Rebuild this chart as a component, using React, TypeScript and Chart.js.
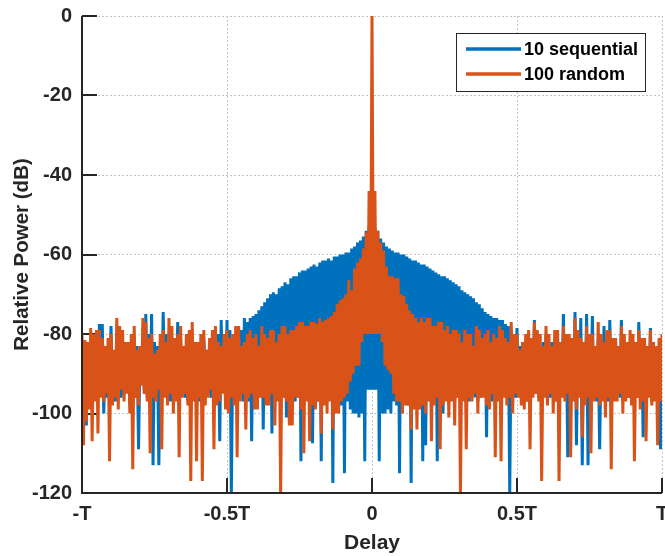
import React, { useEffect, useRef } from "react";
import { Chart, registerables } from "chart.js";

Chart.register(...registerables);

// ---- data -------------------------------------------------------------
const xTickValues = [-1, -0.5, 0, 0.5, 1];
const xTickLabels = ["-T", "-0.5T", "0", "0.5T", "T"];
const yTickValues = [0, -20, -40, -60, -80, -100, -120];
const seriesLabels = ["10 sequential", "100 random"];
const xTitle = "Delay";
const yTitle = "Relative Power (dB)";

// delay samples run from -T to T (in units of T)
const DELAY_START = -1;
const DELAY_STEP = 0.005;

// relative power (dB), 10 sequential
const sequential10 = [
  -84, -96, -82, -103, -85, -94, -83, -97, -84, -95, -82, -96, -77.5, -94, -77.5, -100, -83, -96, -84, -95,
  -78, -93, -85, -97, -84, -94, -82, -96, -83, -95, -85, -94, -84, -98, -82, -95, -81, -96, -83, -109,
  -84, -92, -82, -95, -75, -96, -80, -94, -75, -113, -82, -95, -83, -113, -84, -95, -74.5, -95, -80, -96,
  -82, -97, -85, -94, -84, -95, -77, -96, -81, -94, -85, -96, -83, -97, -82, -95, -84, -94, -82, -95,
  -85, -97, -83, -96, -81, -93, -84, -95, -82, -96, -84, -98, -82, -94, -80, -107, -76.5, -94, -81, -95,
  -76.5, -96, -79, -120, -82, -95, -81, -96, -80, -95, -79, -97, -76, -96, -77, -97, -76, -107, -75.5, -96,
  -75, -97, -74, -95, -73, -104, -72, -96, -71, -97, -70, -105, -69.5, -96, -70, -95, -68.5, -97, -68, -96,
  -67, -101, -67.5, -96, -66, -95, -65.5, -97, -65.5, -96, -64.5, -112, -64, -97, -64, -96, -63.5, -98, -63, -107.5,
  -62.5, -96, -63, -97, -62, -112, -61.5, -96, -61.5, -97, -61, -96, -61.5, -117.5, -60.5, -97, -60.5, -96, -60, -98,
  -60, -115, -59.5, -97, -59.5, -99, -58.5, -100, -58, -100, -57, -101, -56.5, -100, -55.5, -112, -54, -94, -53, -94,
  -53, -94, -53, -94, -54, -112, -56, -100, -57, -100, -58, -99, -58.5, -100, -59, -97, -59.5, -98, -59.5, -115,
  -60, -97, -60, -96, -60.5, -98, -61, -117.5, -61.5, -96, -61.5, -97, -62, -96, -62.5, -112, -62.5, -108, -63, -96,
  -63.5, -97, -64, -96, -64.5, -112, -65, -96, -65.5, -100, -65.5, -96, -66, -97, -66.5, -95, -67, -97, -67.5, -96,
  -68, -97, -69, -95, -69.5, -96, -70, -97, -70.5, -95, -71, -96, -72, -97, -72.5, -96, -73.5, -95, -74.5, -106,
  -75, -96, -75.5, -97, -76, -95, -76, -96, -76.5, -97, -76.5, -95, -77.5, -96, -78, -120, -79, -95, -82, -96,
  -78.5, -94, -83, -96, -82, -95, -84, -97, -81, -96, -83, -94, -76.5, -95, -82, -96, -84, -97, -82, -95,
  -80, -94, -83, -96, -82, -95, -84, -97, -81, -96, -83, -95, -75, -96, -80, -111, -83, -95, -82, -96,
  -74.5, -108, -81, -95, -76, -113, -82, -96, -75, -113, -80, -95, -75.5, -96, -83, -97, -82, -109, -84, -95,
  -78, -96, -83, -97, -76.5, -95, -84, -96, -82, -94, -83, -96, -76.5, -97, -84, -95, -83, -96, -82, -97,
  -84, -95, -83, -96, -77, -95, -82, -106, -84, -96, -83, -95, -78.5, -97, -82, -96, -84, -95, -83, -109,
  -83,
];

// relative power (dB), 100 random
const random100 = [
  -80, -108, -81.5, -102, -82, -99, -78.5, -107, -80, -97, -79, -105, -79, -96, -81, -97, -83, -95, -81, -112,
  -80, -98, -84, -96, -76, -99, -78, -94, -79, -97, -82, -95, -82, -100, -80, -114, -78, -96, -84, -98,
  -83, -93, -76, -95, -77, -97, -81, -110, -80, -96, -85, -97, -84, -94, -80, -109, -79, -96, -82, -98,
  -76, -95, -78, -100, -81, -97, -80, -111, -78, -96, -83, -95, -80, -98, -79, -117, -77, -97, -82, -112,
  -82, -96, -80, -117, -79, -98, -84, -96, -81, -94, -79, -109, -78, -98, -82, -97, -83, -95, -80, -99,
  -79, -100, -81, -96, -80, -98, -78, -111, -78, -97, -83, -95, -82, -104, -80, -96, -79, -95, -81, -99,
  -80, -99, -83, -96, -78, -96, -80, -98, -81, -98, -79, -95, -79, -103, -82, -97, -80, -120, -78, -96,
  -78, -97, -80, -103, -79, -103, -79, -96, -78, -96, -77, -99, -77, -110, -78, -97, -78, -107, -77, -98,
  -77, -99, -77.5, -97, -76, -105, -77, -98, -76.5, -100, -76, -97, -75.5, -104, -74.5, -100, -72.5, -100, -71.5, -97,
  -71, -96, -70, -95, -66.5, -92, -69, -90, -63.5, -88, -62, -88, -61, -82, -58.5, -80, -54.5, -80, -44, -80,
  0, -80, -44, -80, -54, -80, -57, -82, -59, -88, -63, -89, -65.5, -90, -65.5, -95, -66, -97, -66, -97,
  -70, -100, -70.5, -98, -72.5, -98, -74, -104, -75, -99, -76, -104, -77, -99, -76, -98, -77, -100, -76, -97,
  -76, -107, -78, -98, -78, -96, -77, -109, -77, -98, -79, -97, -78, -101, -80, -97, -79, -103, -79, -96,
  -80, -120, -82, -97, -79, -109, -80, -96, -80, -97, -83, -95, -78, -100, -79, -96, -81, -96, -80, -98,
  -79, -99, -82, -95, -80, -111, -81, -97, -78, -112, -79, -96, -81, -98, -82, -96, -77, -100, -80, -95,
  -80, -96, -84, -98, -82, -99, -80, -97, -79, -109, -81, -96, -77, -95, -79, -97, -80, -117, -83, -96,
  -78, -98, -80, -95, -83, -100, -79, -97, -79, -117, -82, -96, -78, -97, -80, -95, -80, -111, -81, -97,
  -76, -99, -79, -96, -81, -106, -82, -98, -78, -96, -80, -110, -80, -97, -83, -96, -77, -98, -80, -97,
  -82, -101, -79, -96, -79, -114, -81, -97, -81, -97, -83, -95, -78, -100, -80, -97, -82, -96, -79, -98,
  -80, -112, -82, -96, -79, -99, -81, -97, -81, -107, -83, -96, -79, -98, -82, -97, -83, -108, -81, -97,
  -80,
];

const seriesColors = ["#0072BD", "#D95319"];

// ---- styling ------------------------------------------------------------
const FONT = "'Liberation Sans', Arial, Helvetica, sans-serif";
const AXIS_COLOR = "#262626";

const toPoints = (vals: number[]) =>
  vals.map((v, i) => ({ x: DELAY_START + i * DELAY_STEP, y: v }));

const matlabAxes = {
  id: "matlabAxes",
  beforeDatasetsDraw(chart: any) {
    const { ctx, chartArea: a, scales } = chart;
    const x = scales.x;
    const y = scales.y;
    ctx.save();
    ctx.strokeStyle = AXIS_COLOR;
    ctx.lineWidth = 2;
    ctx.beginPath();
    const tl = 15;
    for (const v of yTickValues) {
      const py = Math.round(y.getPixelForValue(v));
      ctx.moveTo(a.left, py);
      ctx.lineTo(a.left + tl, py);
    }
    for (const v of xTickValues) {
      const px = Math.round(x.getPixelForValue(v));
      ctx.moveTo(px, a.bottom);
      ctx.lineTo(px, a.bottom - tl);
    }
    ctx.stroke();
    ctx.restore();
  },
  afterDatasetsDraw(chart: any) {
    const { ctx, chartArea: a } = chart;
    ctx.save();
    // axis lines (left and bottom)
    ctx.strokeStyle = AXIS_COLOR;
    ctx.lineWidth = 2;
    ctx.beginPath();
    ctx.moveTo(a.left, a.top);
    ctx.lineTo(a.left, a.bottom);
    ctx.lineTo(a.right, a.bottom);
    ctx.stroke();

    // legend box
    const bw = 189;
    const bh = 58;
    const bx = a.right - 17 - bw;
    const by = a.top + 17;
    ctx.fillStyle = "#ffffff";
    ctx.fillRect(bx, by, bw, bh);
    ctx.strokeStyle = AXIS_COLOR;
    ctx.lineWidth = 1;
    ctx.strokeRect(bx + 0.5, by + 0.5, bw, bh);
    ctx.font = `bold 18px ${FONT}`;
    ctx.textBaseline = "middle";
    ctx.textAlign = "left";
    chart.data.datasets.forEach((ds: any, i: number) => {
      const ly = by + 16 + i * 25;
      ctx.strokeStyle = ds.borderColor;
      ctx.lineWidth = 3.5;
      ctx.beginPath();
      ctx.moveTo(bx + 10, ly);
      ctx.lineTo(bx + 65, ly);
      ctx.stroke();
      ctx.fillStyle = "#000000";
      ctx.fillText(ds.label, bx + 68, ly + 1);
    });
    ctx.restore();
  },
};

export default function App() {
  const canvasRef = useRef<HTMLCanvasElement | null>(null);

  useEffect(() => {
    const canvas = canvasRef.current;
    if (!canvas) return;
    const chart = new Chart(canvas, {
      type: "line",
      data: {
        datasets: [
          {
            label: seriesLabels[0],
            data: toPoints(sequential10),
            borderColor: seriesColors[0],
            backgroundColor: seriesColors[0],
            borderWidth: 3,
            borderJoinStyle: "bevel",
            pointRadius: 0,
            tension: 0,
            clip: 0,
            order: 1,
          },
          {
            label: seriesLabels[1],
            data: toPoints(random100),
            borderColor: seriesColors[1],
            backgroundColor: seriesColors[1],
            borderWidth: 3,
            borderJoinStyle: "bevel",
            pointRadius: 0,
            tension: 0,
            clip: 0,
            order: 0,
          },
        ],
      },
      options: {
        responsive: false,
        animation: false,
        devicePixelRatio: 1,
        parsing: false,
        layout: { padding: { left: 0, right: 3, top: 16, bottom: 0 } },
        plugins: {
          legend: { display: false },
          tooltip: { enabled: false },
        },
        scales: {
          x: {
            type: "linear",
            min: -1,
            max: 1,
            afterBuildTicks: (s: any) => {
              s.ticks = xTickValues.map((v) => ({ value: v }));
            },
            afterFit: (s: any) => {
              s.height = 63;
              s.paddingLeft = 0;
              s.paddingRight = 0;
            },
            ticks: {
              autoSkip: false,
              maxRotation: 0,
              minRotation: 0,
              padding: 9,
              color: AXIS_COLOR,
              font: { family: FONT, size: 20, weight: "bold" },
              callback: (_v: any, i: number) => xTickLabels[i],
            },
            grid: { color: "#c4c4c4", lineWidth: 1, drawTicks: false },
            border: { display: false, dash: [2, 2] },
            title: {
              display: true,
              text: xTitle,
              color: AXIS_COLOR,
              font: { family: FONT, size: 21, weight: "bold" },
              padding: { top: 0, bottom: 0 },
            },
          },
          y: {
            type: "linear",
            min: -120,
            max: 0,
            afterBuildTicks: (s: any) => {
              s.ticks = yTickValues.map((v) => ({ value: v }));
            },
            afterFit: (s: any) => {
              s.width = 82;
              s.paddingTop = 0;
              s.paddingBottom = 0;
            },
            ticks: {
              padding: 10,
              color: AXIS_COLOR,
              font: { family: FONT, size: 20, weight: "bold" },
              callback: (v: any) => `${v}`,
            },
            grid: { color: "#c4c4c4", lineWidth: 1, drawTicks: false },
            border: { display: false, dash: [2, 2] },
            title: {
              display: true,
              text: yTitle,
              color: AXIS_COLOR,
              font: { family: FONT, size: 20.5, weight: "bold" },
              padding: { top: 10, bottom: 0 },
            },
          },
        },
      },
      plugins: [matlabAxes],
    } as any);
    return () => chart.destroy();
  }, []);

  return (
    <div style={{ position: "absolute", left: 0, top: 0, width: 665, height: 556, background: "#fff" }}>
      <canvas ref={canvasRef} width={665} height={556} style={{ display: "block", width: 665, height: 556 }} />
    </div>
  );
}
